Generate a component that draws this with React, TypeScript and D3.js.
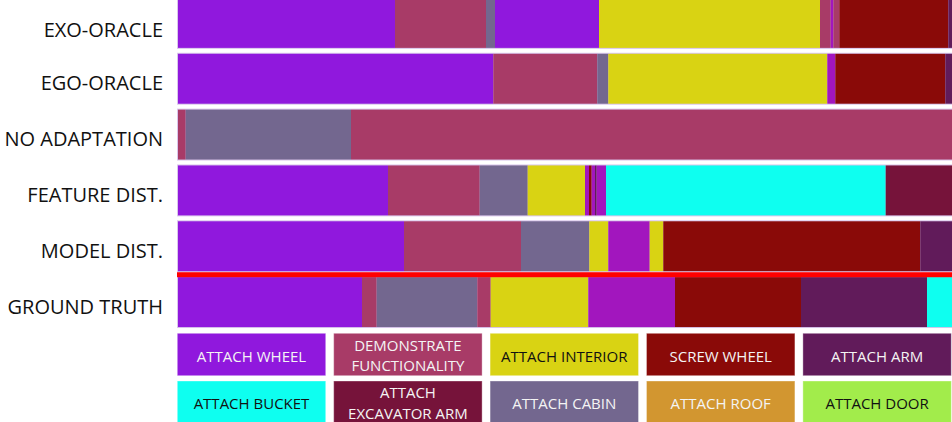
import React, { useEffect } from "react";
import * as d3 from "d3";

// ---------- data ----------
const ROWS = ["EXO-ORACLE", "EGO-ORACLE", "NO ADAPTATION", "FEATURE DIST.", "MODEL DIST.", "GROUND TRUTH"];

// action classes (legend order); the last one appears in the bars but is not shown in the visible legend
const CLASSES = [
  "ATTACH WHEEL",
  "DEMONSTRATE FUNCTIONALITY",
  "ATTACH INTERIOR",
  "SCREW WHEEL",
  "ATTACH ARM",
  "ATTACH BUCKET",
  "ATTACH EXCAVATOR ARM",
  "ATTACH CABIN",
  "ATTACH ROOF",
  "ATTACH DOOR",
  "OTHER",
];
const CLASS_COLORS = [
  "#9018DD", "#A83B67", "#D9D313", "#8A0A08", "#611B5A",
  "#0EFFF0", "#76133A", "#73678F", "#D29630", "#A2EC4B", "#A216BE",
];
const LEGEND_LINES = [
  ["ATTACH WHEEL"],
  ["DEMONSTRATE", "FUNCTIONALITY"],
  ["ATTACH INTERIOR"],
  ["SCREW WHEEL"],
  ["ATTACH ARM"],
  ["ATTACH BUCKET"],
  ["ATTACH", "EXCAVATOR ARM"],
  ["ATTACH CABIN"],
  ["ATTACH ROOF"],
  ["ATTACH DOOR"],
];
const LEGEND_DARK_TEXT = ["ATTACH INTERIOR", "ATTACH BUCKET", "ATTACH DOOR"];

const TOTAL = 775; // visible timeline length (frames)

// segments: [class index, duration]
const EXO_ORACLE: [number, number][] = [
  [0, 218], [1, 91], [7, 9], [0, 104], [2, 221], [1, 10.7], [10, 2.6], [1, 6], [3, 109], [4, 3.7],
];
const EGO_ORACLE: [number, number][] = [
  [0, 316.3], [1, 104], [7, 11], [2, 219], [10, 8], [3, 110], [4, 6.7],
];
const NO_ADAPTATION: [number, number][] = [
  [1, 8.7], [7, 165.3], [1, 601],
];
const FEATURE_DIST: [number, number][] = [
  [0, 211], [1, 91.7], [7, 48], [2, 57.3], [10, 4], [3, 2.7], [10, 3.3], [4, 1.7], [10, 9.3], [5, 279.7], [6, 66.3],
];
const MODEL_DIST: [number, number][] = [
  [0, 227], [1, 117], [7, 68.3], [2, 19], [10, 41.4], [2, 13.6], [3, 257], [4, 31.7],
];
const GROUND_TRUTH: [number, number][] = [
  [0, 185], [1, 14.7], [7, 100.6], [1, 13.4], [2, 97.6], [10, 86.7], [3, 126], [4, 126], [5, 25],
];
const ROW_SEGMENTS = [EXO_ORACLE, EGO_ORACLE, NO_ADAPTATION, FEATURE_DIST, MODEL_DIST, GROUND_TRUTH];

// ---------- chart ----------
const W = 952;
const H = 422;
const FONT = "'Open Sans', 'DejaVu Sans', sans-serif";

export default function App() {
  useEffect(() => {
    document.body.style.margin = "0";
  }, []);

  const x = d3.scaleLinear().domain([0, TOTAL]).range([177, 952]);
  const y = d3.scaleBand<string>().domain(ROWS).range([-5, 330]).paddingInner(0.07).paddingOuter(0.035);
  const color = d3.scaleOrdinal<string, string>().domain(CLASSES).range(CLASS_COLORS);

  const rows = ROWS.map((name, i) => {
    let acc = 0;
    const segs = ROW_SEGMENTS[i].map(([c, d]) => {
      const s = { cls: CLASSES[c], start: acc, end: acc + d };
      acc += d;
      return s;
    });
    return { name, segs };
  });

  const legendItems = CLASSES.slice(0, 10);
  const lx = d3.scaleBand<number>().domain([0, 1, 2, 3, 4]).range([177.3, 951.3]).paddingInner(0.051).paddingOuter(0);
  const ly = d3.scaleBand<number>().domain([0, 1]).range([333.3, 423.4]).paddingInner(0.111).paddingOuter(0);

  const gtBottom = (y("MODEL DIST.") as number) + y.bandwidth();

  return (
    <svg width={W} height={H} style={{ display: "block", position: "absolute", left: 0, top: 0 }} fontFamily={FONT}>
      <rect x={0} y={0} width={W} height={H} fill="#ffffff" />
      {rows.map((r, i) => {
        const top = y(r.name) as number;
        return (
          <g key={r.name}>
            <text
              x={163}
              y={top + y.bandwidth() / 2 + (i === 0 ? 7 : 4)}
              textAnchor="end"
              dominantBaseline="central"
              fontSize={20}
              fill="#111"
            >
              {r.name}
            </text>
            <rect x={x(0)} y={top} width={x(TOTAL) - x(0)} height={y.bandwidth()} fill="#d9c6ec" />
            {r.segs.map((s, j) => (
              <rect
                key={j}
                x={x(s.start) + (j === 0 ? 1 : 0)}
                y={top + 1}
                width={Math.max(0, x(s.end) - x(s.start) - (j === 0 ? 1 : 0))}
                height={y.bandwidth() - 2}
                fill={color(s.cls)}
              />
            ))}
          </g>
        );
      })}
      <rect x={x(0)} y={gtBottom} width={x(TOTAL) - x(0)} height={5} fill="#ff0000" />
      {legendItems.map((c, i) => {
        const col = i % 5;
        const row = Math.floor(i / 5);
        const bx = lx(col) as number;
        const by = ly(row) as number;
        const bw = lx.bandwidth();
        const bh = ly.bandwidth();
        const lines = LEGEND_LINES[i];
        const dark = LEGEND_DARK_TEXT.includes(c);
        const cy = by + bh / 2;
        return (
          <g key={c}>
            <rect x={bx} y={by} width={bw} height={bh} fill={color(c)} stroke="#ffffff" strokeOpacity={0.35} strokeWidth={1} />
            {lines.map((ln, k) => (
              <text
                key={k}
                x={bx + bw / 2}
                y={lines.length === 1 ? cy + 1 : cy - 10 + k * 20.5}
                textAnchor="middle"
                dominantBaseline="central"
                fontSize={15}
                fill={dark ? "#111111" : "#f4f4f4"}
              >
                {ln}
              </text>
            ))}
          </g>
        );
      })}
    </svg>
  );
}
